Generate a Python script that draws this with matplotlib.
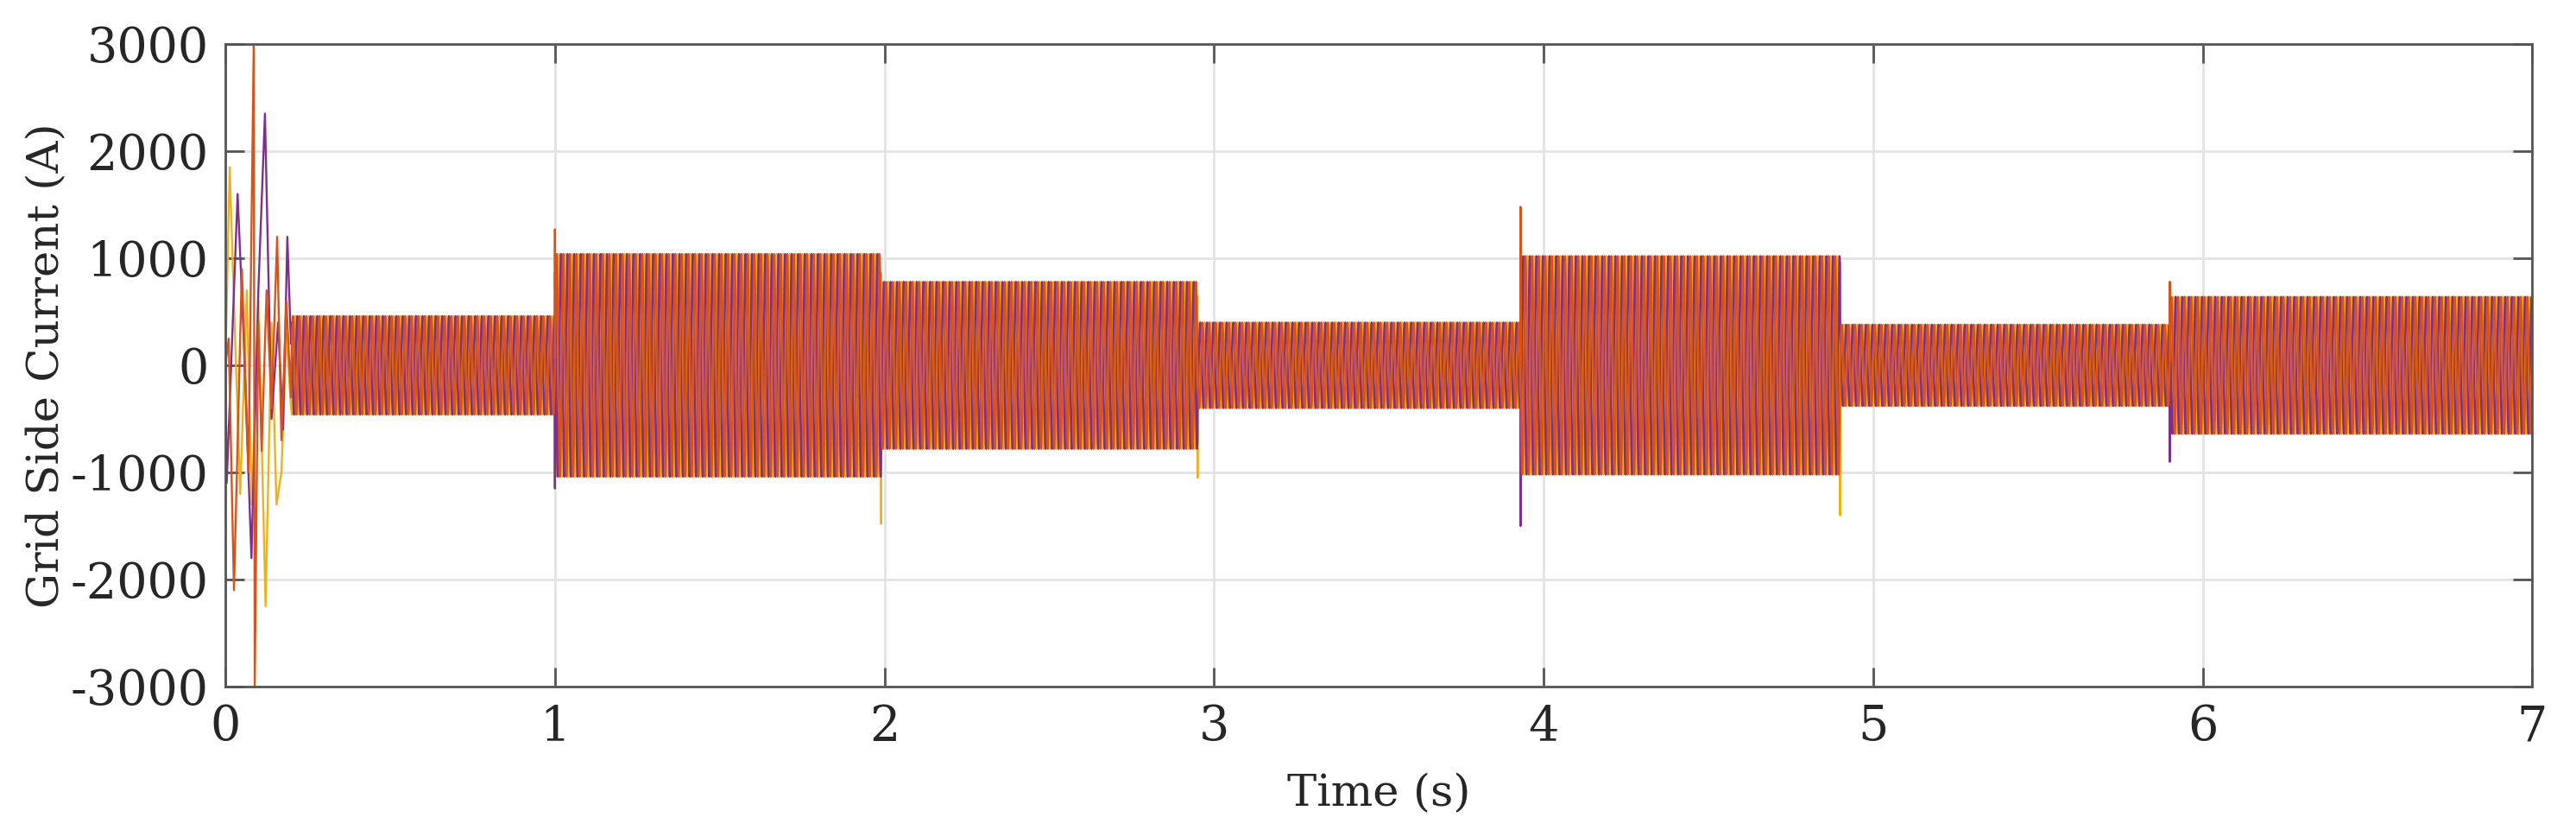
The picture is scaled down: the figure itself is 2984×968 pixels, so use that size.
import numpy as np
import matplotlib
matplotlib.use('Agg')
import matplotlib.pyplot as plt

plt.rcParams['axes.unicode_minus'] = False

# colours of the three phases (MATLAB order 2,3,4)
colors = ['#D95319', '#EDB120', '#7E2F8E']

# steady state: segment edges (s) and peak current (A)
seg_edges = [0.2, 1.0, 1.99, 2.95, 3.93, 4.90, 5.90, 7.0]
seg_amps = [460, 1040, 780, 400, 1020, 380, 640]
freq = 50
phase_deg = [0, -120, 120]

# start-up transient (0 - 0.2 s)
tr_t_a = [0.0, 0.010, 0.026, 0.050, 0.070, 0.086, 0.089, 0.100, 0.110, 0.125, 0.140, 0.157, 0.170, 0.185, 0.199]
tr_v_a = [0, 250, -2100, 900, -1000, 3000, -3000, 400, -800, 700, -400, 1200, -700, 600, -300]
tr_t_b = [0.0, 0.013, 0.030, 0.045, 0.065, 0.080, 0.100, 0.122, 0.140, 0.155, 0.170, 0.185, 0.199]
tr_v_b = [0, 1850, 200, -1200, 700, -1300, 600, -2250, 400, -1300, -1000, 300, -400]
tr_t_c = [0.0, 0.004, 0.037, 0.055, 0.079, 0.100, 0.120, 0.140, 0.160, 0.175, 0.188, 0.199]
tr_v_c = [0, -1100, 1600, 300, -1800, 700, 2350, -500, 400, -600, 1200, 200]

# switching spikes: time, phase index, value
spike_t = [1.0, 1.0, 1.99, 2.95, 3.93, 3.93, 4.90, 5.90, 5.90]
spike_ph = [0, 2, 1, 1, 0, 2, 1, 2, 0]
spike_v = [1270, -1150, -1480, -1050, 1480, -1500, -1400, -900, 780]

tr_t = [tr_t_a, tr_t_b, tr_t_c]
tr_v = [tr_v_a, tr_v_b, tr_v_c]

t = np.arange(0.2, 7.0, 2e-4)
amp = np.zeros_like(t)
for k in range(len(seg_amps)):
    m = (t >= seg_edges[k]) & (t < seg_edges[k + 1])
    amp[m] = seg_amps[k]

fig = plt.figure(figsize=(29.84, 9.68), dpi=100)
ax = fig.add_axes([0.0875, 0.1787, 0.8955, 0.7686])

order = [1, 2, 0]
for p in order:
    y = amp * np.sin(2 * np.pi * freq * t + np.deg2rad(phase_deg[p]))
    for st, sp, sv in zip(spike_t, spike_ph, spike_v):
        if sp == p:
            y[np.argmin(np.abs(t - st))] = sv
    tt = np.concatenate([tr_t[p], t])
    yy = np.concatenate([tr_v[p], y])
    ax.plot(tt, yy, color=colors[p], lw=1.7)

ax.set_xlim(0, 7)
ax.set_ylim(-3000, 3000)
ax.set_xticks(range(0, 8))
ax.set_yticks(range(-3000, 3001, 1000))
ax.grid(True, color='#e3e3e3', lw=2)
ax.set_axisbelow(True)
for s in ax.spines.values():
    s.set_color('#555555')
    s.set_linewidth(2)
ax.tick_params(direction='in', length=16, width=2, color='#555555',
               top=True, right=True, labelsize=40, labelcolor='#262626', pad=14)
for lab in ax.get_xticklabels() + ax.get_yticklabels():
    lab.set_family('DejaVu Serif')
ax.set_xlabel('Time (s)', family='DejaVu Serif', fontsize=37, color='#262626', labelpad=18)
ax.set_ylabel('Grid Side Current (A)', family='DejaVu Serif', fontsize=37, color='#262626', labelpad=2)

fig.savefig('out.png', dpi=100, facecolor='white')
